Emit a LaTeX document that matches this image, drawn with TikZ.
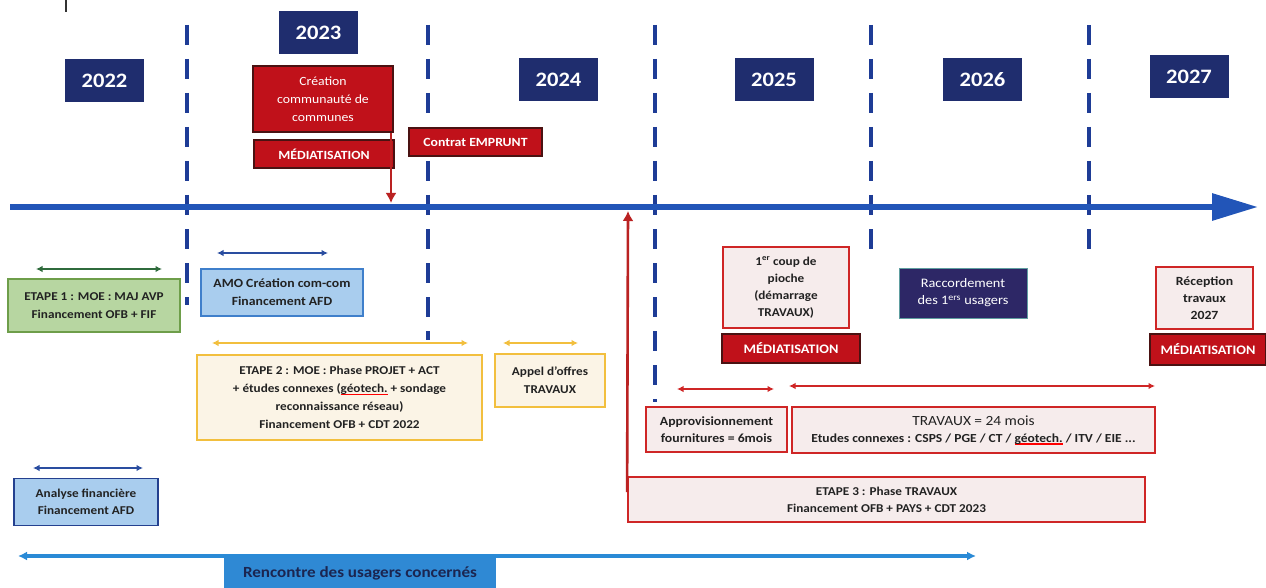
\documentclass[tikz,border=0pt]{standalone}
\usepackage{fontspec}
\setmainfont{Carlito}[FakeStretch=1.1]
\usetikzlibrary{arrows.meta,calc}
\definecolor{navy}{HTML}{1F2D6E}
\definecolor{dashblue}{HTML}{1E3C96}
\definecolor{axisblue}{HTML}{2255B8}
\definecolor{redfill}{HTML}{C0111A}
\definecolor{redline}{HTML}{CF2626}
\definecolor{pinkfill}{HTML}{F6ECEC}
\definecolor{darkborder}{HTML}{4A1212}
\definecolor{raccfill}{HTML}{2D2766}
\definecolor{raccline}{HTML}{5F9EA0}
\definecolor{lblue}{HTML}{A9CDEE}
\definecolor{lblueline}{HTML}{3F7FCB}
\definecolor{anaborder}{HTML}{24408F}
\definecolor{greenfill}{HTML}{B7D6A1}
\definecolor{greenline}{HTML}{6E9E4A}
\definecolor{greenarrow}{HTML}{2F6B3C}
\definecolor{yellowline}{HTML}{F2BF3E}
\definecolor{yellowfill}{HTML}{FBF4E6}
\definecolor{arrowblue}{HTML}{2A4DA0}
\definecolor{skyblue}{HTML}{2A8AD6}
\definecolor{rencfill}{HTML}{2F89D4}
\definecolor{renctext}{HTML}{1B2550}
\definecolor{textdark}{HTML}{222222}
\newcommand\spellmark[1]{{\setbox0\hbox{#1}\rlap{\color{red}\rule[-2.6pt]{\wd0}{1.2pt}}\box0}}
\begin{document}
\begin{tikzpicture}[x=1pt,y=-1pt,
  box/.style={rectangle, inner sep=0pt, align=center},
  yearbox/.style={box, fill=navy, text=white, font=\bfseries\fontsize{20.5}{24}\selectfont, minimum width=79pt, minimum height=43pt},
  redbox/.style={box, fill=redfill, draw=darkborder, line width=1.4pt, text=white, font=\bfseries\fontsize{13}{18}\selectfont},
  pinkbox/.style={box, fill=pinkfill, draw=redline, line width=1.8pt, text=textdark, font=\bfseries\fontsize{12}{17}\selectfont},
  yellowbox/.style={box, fill=yellowfill, draw=yellowline, line width=1.8pt, text=textdark, font=\bfseries\fontsize{12}{18}\selectfont},
  bluebox/.style={box, fill=lblue, draw=lblueline, line width=1.5pt, text=textdark, font=\bfseries\fontsize{12.5}{18}\selectfont},
  divider/.style={dashblue, line width=3.3pt, dash pattern=on 20pt off 14pt},
  span/.style={{Latex[length=6.5pt,width=6.5pt]}-{Latex[length=6.5pt,width=6.5pt]}, line width=2pt},
  tickarrow/.style={redline!90!black, line width=2.6pt, -{Latex[length=10pt,width=11pt]}}
]
\fill[white] (0,0) rectangle (1266,588);
\useasboundingbox (0,0) rectangle (1266,588);

% small tick top-left
\draw[black!80, line width=1.5pt] (66,0) -- (66,12);

% year dividers
\draw[divider] (187,25) -- (187,305);
\draw[divider] (428,25) -- (428,340);
\draw[divider] (655,25) -- (655,402);
\draw[divider] (871,25) -- (871,262);
\draw[divider] (1089,25) -- (1089,262);

% main axis
\coordinate (axL) at (10,207);
\coordinate (axR) at (1258,207);
\draw[axisblue, line width=6pt, -{Triangle[length=46pt,width=26pt]}] (axL) -- (axR);

% years
\node[yearbox] (y22) at (104.5,81) {2022};
\node[yearbox] (y23) at (318.5,32.5) {2023};
\node[yearbox] (y24) at (558.5,80) {2024};
\node[yearbox] (y25) at (774,79.5) {2025};
\node[yearbox] (y26) at (982.5,79.5) {2026};
\node[yearbox] (y27) at (1189,77) {2027};

% top red boxes
\node[redbox, font=\fontsize{12.5}{18}\selectfont, minimum width=140pt, minimum height=66pt] (creation) at (323,99) {Création\\communauté de\\communes};
\node[redbox, font=\bfseries\fontsize{12.5}{18}\selectfont, minimum width=140pt, minimum height=28pt] (med1) at (324,154) {MÉDIATISATION};
\node[redbox, font=\bfseries\fontsize{12.5}{18}\selectfont, minimum width=133pt, minimum height=28pt] (contrat) at (475.5,142) {Contrat EMPRUNT};

\coordinate (dn) at (391,203);
\draw[tickarrow] (creation.south -| dn) -- (dn);

% left lower
\draw[span, greenarrow] (36,269) coordinate (g1) -- (162,269) coordinate (g2);
\node[box, fill=greenfill, draw=greenline, line width=1.8pt, text=textdark, font=\bfseries\fontsize{12}{18}\selectfont, minimum width=172pt, minimum height=53pt] (etape1) at (94,305.5) {ETAPE 1 : MOE : MAJ AVP\\Financement OFB + FIF};

\draw[span, arrowblue] (217,253) coordinate (b1) -- (328,253) coordinate (b2);
\node[bluebox, minimum width=162pt, minimum height=47pt] (amo) at (282,292.5) {AMO Création com-com\\Financement AFD};

\draw[span, yellowline] (212,343) coordinate (ya1) -- (468,343) coordinate (ya2);
\node[yellowbox, minimum width=285pt, minimum height=85pt] (etape2) at (339.5,397.5) {ETAPE 2 : MOE : Phase PROJET + ACT\\+ études connexes (\spellmark{géotech.} + sondage\\reconnaissance réseau)\\Financement OFB + CDT 2022};

\draw[span, yellowline] (503,343) coordinate (yb1) -- (578,343) coordinate (yb2);
\node[yellowbox, minimum width=110pt, minimum height=53pt] (appel) at (550,380.5) {Appel d'offres\\TRAVAUX};

\draw[span, arrowblue] (33,468) coordinate (c1) -- (143,468) coordinate (c2);
\node[bluebox, draw=anaborder, font=\bfseries\fontsize{12}{17}\selectfont, minimum width=144pt, minimum height=47pt] (analyse) at (86,502) {Analyse financière\\Financement AFD};

% right lower
\node[pinkbox, minimum width=126pt, minimum height=81pt] (pioche) at (786,287.5) {1\textsuperscript{er} coup de\\pioche\\(démarrage\\TRAVAUX)};
\node[redbox, minimum width=138pt, minimum height=29pt] (med2) at (791,348.5) {MÉDIATISATION};
\node[box, fill=raccfill, draw=raccline, line width=1pt, text=white, font=\fontsize{13}{17}\selectfont, minimum width=128pt, minimum height=50pt] (racc) at (963,293) {Raccordement\\des 1\textsuperscript{ers} usagers};
\node[pinkbox, font=\bfseries\fontsize{12.5}{17}\selectfont, minimum width=97pt, minimum height=62pt] (recep) at (1204.5,298) {Réception\\travaux\\2027};
\node[redbox, minimum width=116pt, minimum height=31pt] (med3) at (1208,349.5) {MÉDIATISATION};

\draw[span, redline] (677,389) coordinate (r1) -- (774,389) coordinate (r2);
\draw[span, redline] (789,386) coordinate (r3) -- (1155,386) coordinate (r4);
\node[pinkbox, font=\bfseries\fontsize{12.5}{17}\selectfont, minimum width=141pt, minimum height=45pt] (approv) at (716.5,429.5) {Approvisionnement\\fournitures = 6mois};
\node[pinkbox, minimum width=363pt, minimum height=46pt] (travaux) at (973.5,430) {{\mdseries\fontsize{14}{17}\selectfont TRAVAUX = 24 mois}\\{\fontsize{12.3}{15}\selectfont Etudes connexes : CSPS / PGE / CT / \spellmark{géotech.} / ITV / EIE ...}};
\node[pinkbox, minimum width=517pt, minimum height=45pt] (etape3) at (886.5,499.5) {ETAPE 3 : Phase TRAVAUX\\Financement OFB + PAYS + CDT 2023};

\coordinate (up) at (628,211);
\draw[tickarrow] ($(etape3.north west)+(0,16)$) -- (up);

% bottom
\draw[skyblue, line width=4pt, {Latex[length=9pt,width=9pt]}-{Latex[length=9pt,width=9pt]}] (18,556) coordinate (s1) -- (976,556) coordinate (s2);
\node[box, fill=rencfill, text=renctext, font=\bfseries\fontsize{15.5}{18}\selectfont, minimum width=272pt, minimum height=31pt] (renc) at (360,573.5) {Rencontre des usagers concernés};
\end{tikzpicture}
\end{document}
